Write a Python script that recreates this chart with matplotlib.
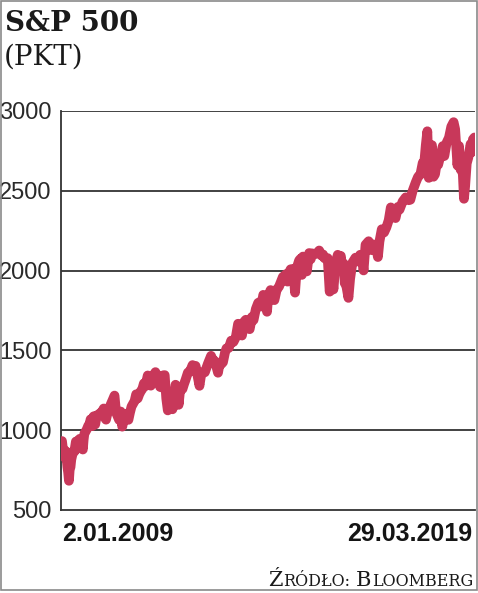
"""
S&P 500 index level, 2009-2019 (newspaper style line chart)
"""
import matplotlib
matplotlib.use('Agg')
import matplotlib.pyplot as plt
import pandas as pd
from matplotlib.patches import Rectangle

# roughly bi-weekly closes
dates = [
    "2009-01-02", "2009-01-09", "2009-01-16", "2009-01-23", "2009-01-30", "2009-02-06", "2009-02-13",
    "2009-02-20", "2009-02-27", "2009-03-06", "2009-03-13", "2009-03-20", "2009-03-27", "2009-04-09",
    "2009-04-17", "2009-04-24", "2009-05-08", "2009-05-15", "2009-05-22", "2009-06-05", "2009-06-12",
    "2009-06-19", "2009-06-26", "2009-07-10", "2009-07-17", "2009-07-24", "2009-07-31", "2009-08-14",
    "2009-08-28", "2009-09-11", "2009-09-18", "2009-09-25", "2009-10-02", "2009-10-16", "2009-10-30",
    "2009-11-13", "2009-11-27", "2009-12-11", "2009-12-31",
    "2010-01-15", "2010-01-29", "2010-02-05", "2010-02-19", "2010-03-05", "2010-03-19", "2010-04-09",
    "2010-04-23", "2010-05-07", "2010-05-21", "2010-06-04", "2010-06-18", "2010-07-02", "2010-07-16",
    "2010-07-30", "2010-08-13", "2010-08-27", "2010-09-10", "2010-09-24", "2010-10-08", "2010-10-22",
    "2010-11-05", "2010-11-19", "2010-12-03", "2010-12-17", "2010-12-31",
    "2011-01-14", "2011-01-28", "2011-02-18", "2011-03-04", "2011-03-18", "2011-04-01", "2011-04-29",
    "2011-05-13", "2011-05-27", "2011-06-10", "2011-06-24", "2011-07-08", "2011-07-22", "2011-08-05",
    "2011-08-19", "2011-09-02", "2011-09-16", "2011-09-30", "2011-10-07", "2011-10-28", "2011-11-11",
    "2011-11-25", "2011-12-09", "2011-12-30",
    "2012-01-13", "2012-01-27", "2012-02-17", "2012-03-09", "2012-03-30", "2012-04-13", "2012-04-27",
    "2012-05-11", "2012-06-01", "2012-06-15", "2012-06-29", "2012-07-20", "2012-08-17", "2012-09-14",
    "2012-09-28", "2012-10-19", "2012-11-09", "2012-11-16", "2012-11-30", "2012-12-14", "2012-12-31",
    "2013-01-18", "2013-02-01", "2013-02-22", "2013-03-15", "2013-04-05", "2013-04-26", "2013-05-17",
    "2013-05-31", "2013-06-21", "2013-07-12", "2013-07-26", "2013-08-16", "2013-08-30", "2013-09-20",
    "2013-10-04", "2013-10-25", "2013-11-15", "2013-12-06", "2013-12-13", "2013-12-31",
    "2014-01-17", "2014-02-03", "2014-02-14", "2014-03-07", "2014-03-28", "2014-04-11", "2014-05-02",
    "2014-05-23", "2014-06-13", "2014-06-27", "2014-07-11", "2014-07-25", "2014-08-08", "2014-08-22",
    "2014-09-05", "2014-09-19", "2014-10-03", "2014-10-15", "2014-10-31", "2014-11-21", "2014-12-05",
    "2014-12-16", "2014-12-26",
    "2015-01-16", "2015-01-30", "2015-02-20", "2015-03-06", "2015-03-20", "2015-04-10", "2015-05-01",
    "2015-05-22", "2015-06-12", "2015-06-26", "2015-07-10", "2015-07-24", "2015-08-07", "2015-08-25",
    "2015-09-04", "2015-09-18", "2015-09-28", "2015-10-16", "2015-11-06", "2015-11-13", "2015-12-04",
    "2015-12-18", "2015-12-31",
    "2016-01-08", "2016-01-22", "2016-02-11", "2016-02-26", "2016-03-18", "2016-04-15", "2016-05-06",
    "2016-05-27", "2016-06-10", "2016-06-27", "2016-07-15", "2016-08-12", "2016-09-09", "2016-09-23",
    "2016-10-21", "2016-11-04", "2016-11-18", "2016-12-09", "2016-12-30",
    "2017-01-20", "2017-02-10", "2017-03-01", "2017-03-24", "2017-04-13", "2017-05-05", "2017-05-19",
    "2017-06-16", "2017-07-14", "2017-08-11", "2017-08-25", "2017-09-15", "2017-10-13", "2017-11-03",
    "2017-11-24", "2017-12-15", "2017-12-29",
    "2018-01-12", "2018-01-26", "2018-02-08", "2018-02-16", "2018-03-09", "2018-03-23", "2018-04-06",
    "2018-04-20", "2018-05-04", "2018-05-25", "2018-06-15", "2018-06-29", "2018-07-20", "2018-08-10",
    "2018-08-31", "2018-09-21", "2018-10-05", "2018-10-26", "2018-11-09", "2018-11-23", "2018-12-07",
    "2018-12-14", "2018-12-24",
    "2019-01-04", "2019-01-18", "2019-02-01", "2019-02-22", "2019-03-08", "2019-03-15", "2019-03-29",
]
values = [
    932, 890, 850, 832, 826, 869, 827, 770, 735, 683, 756, 768, 815, 856, 869, 866, 929, 882, 887,
    940, 946, 921, 918, 879, 940, 979, 987, 1004, 1028, 1042, 1068, 1044, 1025, 1087, 1036, 1093,
    1091, 1106, 1115,
    1136, 1074, 1066, 1109, 1138, 1160, 1194, 1217, 1111, 1087, 1064, 1117, 1022, 1065, 1101, 1079,
    1065, 1110, 1148, 1166, 1183, 1225, 1199, 1225, 1244, 1258,
    1293, 1276, 1343, 1321, 1279, 1332, 1364, 1338, 1331, 1271, 1268, 1344, 1345, 1199, 1124, 1174,
    1216, 1131, 1155, 1285, 1263, 1159, 1255, 1258,
    1289, 1316, 1361, 1371, 1408, 1370, 1403, 1353, 1278, 1343, 1362, 1363, 1418, 1466, 1441, 1433,
    1380, 1360, 1416, 1413, 1426,
    1486, 1513, 1516, 1561, 1553, 1582, 1667, 1631, 1593, 1681, 1692, 1655, 1633, 1710, 1690, 1760,
    1798, 1805, 1775, 1848,
    1839, 1742, 1838, 1878, 1857, 1815, 1881, 1900, 1937, 1961, 1967, 1978, 1931, 1988, 2008, 2010,
    1968, 1862, 2018, 2064, 2075, 1973, 2088,
    2019, 1995, 2110, 2071, 2108, 2102, 2108, 2126, 2094, 2101, 2077, 2079, 2078, 1868, 1921, 1958,
    1882, 2033, 2099, 2023, 2092, 2005, 2044,
    1922, 1907, 1829, 1948, 2050, 2081, 2057, 2099, 2096, 2001, 2162, 2184, 2128, 2164, 2141, 2085,
    2182, 2259, 2239,
    2271, 2316, 2396, 2344, 2329, 2399, 2382, 2433, 2459, 2441, 2444, 2500, 2553, 2588, 2602, 2675,
    2674,
    2786, 2873, 2581, 2732, 2786, 2588, 2604, 2670, 2663, 2721, 2780, 2718, 2802, 2833, 2902, 2930,
    2886, 2659, 2781, 2633, 2633, 2600, 2450,
    2532, 2671, 2707, 2793, 2743, 2822, 2834,
]

y_ticks = [500, 1000, 1500, 2000, 2500, 3000]
first_label = "2.01.2009"
last_label = "29.03.2019"

dates = pd.to_datetime(dates)

W, H = 478, 593
fig = plt.figure(figsize=(W / 100, H / 100), dpi=100)
fig.patch.set_facecolor('white')

ax = fig.add_axes([61 / W, 1 - 510 / H, 414 / W, 399 / H])
ax.set_facecolor('white')

# grid lines at each level (bottom one is the axis line)
for v in y_ticks[1:]:
    ax.axhline(v, color='#333333', linewidth=1.3, zorder=1)

ax.plot(dates, values, color='#C8385A', linewidth=7, solid_joinstyle='round',
        solid_capstyle='round', zorder=3)

ax.set_ylim(500, 3000)
ax.set_xlim(pd.Timestamp("2008-12-24"), pd.Timestamp("2019-04-03"))
ax.set_yticks(y_ticks)
ax.set_yticklabels([str(v) for v in y_ticks], fontsize=17, color='#2a2a2a',
                   family='Liberation Sans')
ax.tick_params(axis='y', length=0, pad=7)
ax.set_xticks([])
for s in ['top', 'right']:
    ax.spines[s].set_visible(False)
for s in ['left', 'bottom']:
    ax.spines[s].set_color('#333333')
    ax.spines[s].set_linewidth(1.3)

# date labels at the two ends
fig.text(62 / W, 1 - 541 / H, first_label, ha='left', va='baseline', fontsize=18,
         family='Liberation Sans', color='#151515', fontweight='bold')
fig.text(472 / W, 1 - 541 / H, last_label, ha='right', va='baseline', fontsize=18,
         family='Liberation Sans', color='#151515', fontweight='bold')

# title
fig.text(5 / W, 1 - 31 / H, "S&P 500", ha='left', va='baseline', fontsize=20,
         family='DejaVu Serif', fontweight='bold', color='#1a1a1a')
fig.text(4 / W, 1 - 65 / H, "(PKT)", ha='left', va='baseline', fontsize=20,
         family='DejaVu Serif', color='#1a1a1a')

# source in small caps: pieces placed right to left
renderer = fig.canvas.get_renderer()
pieces = [("Ź", 15), ("RÓDŁO:", 11.5), (" ", 11.5), ("B", 15), ("LOOMBERG", 11.5)]
x_right = 473
for txt, size in reversed(pieces):
    t = fig.text(x_right / W, 1 - 586 / H, txt, ha='right', va='baseline', fontsize=size,
                 family='DejaVu Serif', color='#1a1a1a')
    if txt == " ":
        x_right -= size * 0.32 * 100 / 72
    else:
        x_right -= t.get_window_extent(renderer).width + 0.5

# scan frame
fig.add_artist(Rectangle((1 / W, 3 / H), 476 / W, 589 / H, transform=fig.transFigure,
                         fill=False, edgecolor='#8a8a8a', linewidth=1.2))

fig.savefig('out.png', dpi=100, facecolor='white')
